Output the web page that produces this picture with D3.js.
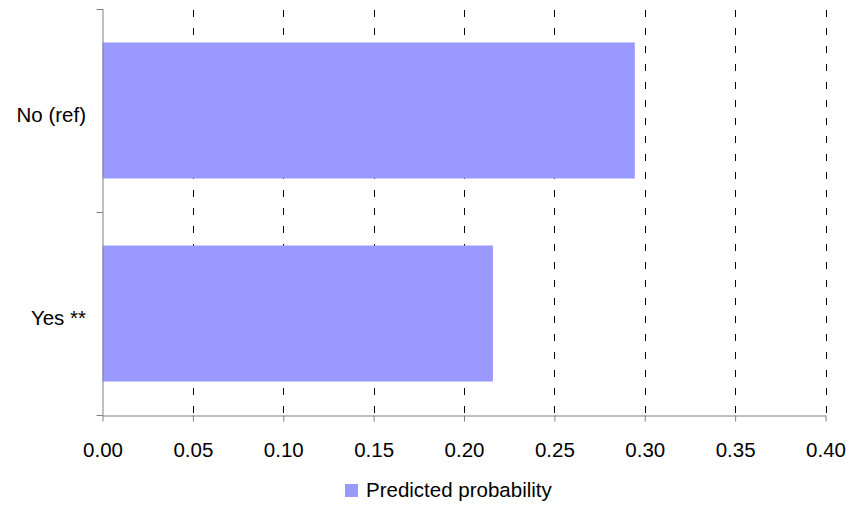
<!DOCTYPE html>
<html><head><meta charset="utf-8">
<script src="https://cdn.jsdelivr.net/npm/d3@7"></script>
<style>body{margin:0;background:#fff}svg{display:block}</style>
</head><body>
<svg id="c" width="851" height="506"></svg>
<script>
const categories = ["No (ref)", "Yes **"];
const values = [0.2945, 0.216];
const seriesName = "Predicted probability";
const xTicks = [0, 0.05, 0.10, 0.15, 0.20, 0.25, 0.30, 0.35, 0.40];

const svg = d3.select("#c");
const m = {left: 102.5, right: 851 - 825.5, top: 9, bottom: 506 - 415};
const W = 851, H = 506;
const x = d3.scaleLinear().domain([0, 0.40]).range([m.left, W - m.right]);
const y = d3.scaleBand().domain(categories).range([m.top, H - m.bottom]).paddingInner(0.33).paddingOuter(0.165);
const font = "'Liberation Sans', Arial, sans-serif";
const fs = 20.5;

// gridlines
svg.append("g").selectAll("line").data(xTicks.slice(1)).join("line")
  .attr("x1", d => Math.round(x(d)) + 0.5).attr("x2", d => Math.round(x(d)) + 0.5)
  .attr("y1", m.top).attr("y2", H - m.bottom)
  .attr("stroke", "#000").attr("stroke-width", 1).attr("stroke-dasharray", "7,11")
  .attr("stroke-dashoffset", -1);

// bars
svg.append("g").selectAll("rect").data(values).join("rect")
  .attr("x", x(0)).attr("y", (d, i) => y(categories[i]))
  .attr("width", d => x(d) - x(0)).attr("height", y.bandwidth())
  .attr("fill", "#9999FF");

// x axis
const xAxis = d3.axisBottom(x).tickValues(xTicks).tickFormat(d3.format(".2f")).tickSize(6).tickSizeOuter(0);
const gx = svg.append("g").attr("transform", `translate(0,${H - m.bottom + 0.5})`).call(xAxis);
gx.select(".domain").attr("stroke", "#808080");
gx.selectAll(".tick line").attr("stroke", "#808080");
gx.selectAll(".tick text").attr("font-family", font).attr("font-size", fs).attr("fill", "#000")
  .attr("y", 41.5).attr("dy", null);

// y axis: ticks at category boundaries
const yEdges = [m.top, (y(categories[0]) + y.bandwidth() + y(categories[1])) / 2, H - m.bottom];
const gy = svg.append("g");
gy.append("line").attr("x1", m.left + 0.5).attr("x2", m.left + 0.5).attr("y1", m.top).attr("y2", H - m.bottom)
  .attr("stroke", "#808080");
gy.selectAll("line.t").data(yEdges).join("line").attr("class", "t")
  .attr("x1", m.left - 6).attr("x2", m.left + 0.5)
  .attr("y1", d => Math.round(d) + 0.5).attr("y2", d => Math.round(d) + 0.5)
  .attr("stroke", "#808080");
gy.selectAll("text").data(categories).join("text")
  .attr("x", 86).attr("y", d => y(d) + y.bandwidth() / 2 + 11.5)
  .attr("text-anchor", "end")
  .attr("font-family", font).attr("font-size", fs).attr("fill", "#000")
  .text(d => d);

// legend
const lg = svg.append("g");
lg.append("rect").attr("x", 345).attr("y", 484).attr("width", 13).attr("height", 13).attr("fill", "#9999FF");
lg.append("text").attr("x", 366).attr("y", 497)
  .attr("font-family", font).attr("font-size", fs).attr("fill", "#000").text(seriesName);
</script>
</body></html>
